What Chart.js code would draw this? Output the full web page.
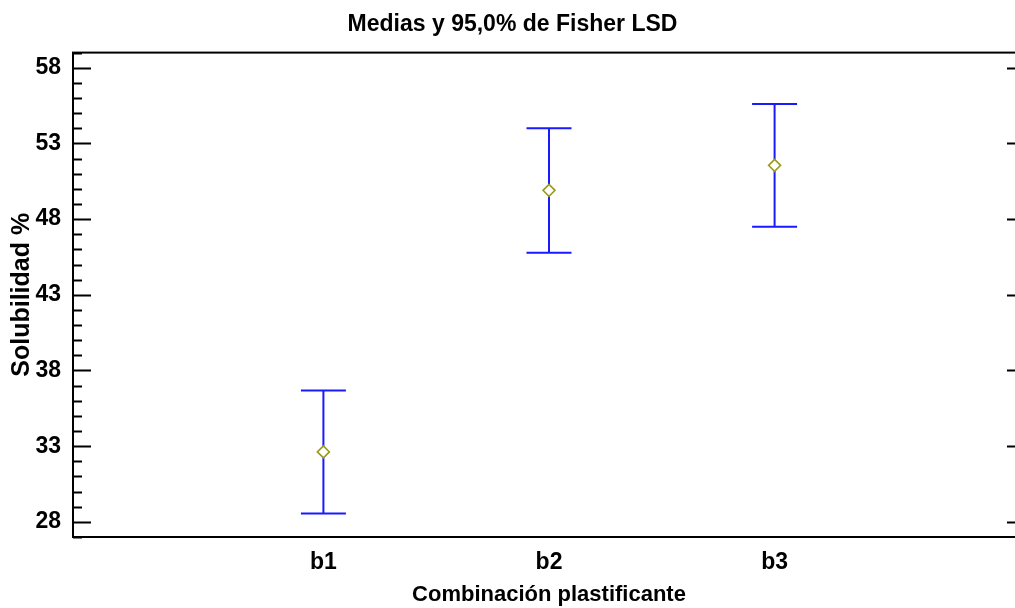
<!DOCTYPE html>
<html>
<head>
<meta charset="utf-8">
<script src="https://cdn.jsdelivr.net/npm/chart.js@4/dist/chart.umd.min.js"></script>
<style>
  html, body { margin: 0; padding: 0; background: #fff; overflow: hidden; }
  #wrap { width: 1040px; height: 608px; position: relative; }
</style>
</head>
<body>
<div id="wrap"><canvas id="c"></canvas></div>
<script>
// Fisher LSD means with 95% intervals per plasticizer combination
const categories = ['b1', 'b2', 'b3'];
const means = [32.62, 49.90, 51.55];
const lower = [28.55, 45.78, 47.50];
const upper = [36.68, 54.00, 55.60];
const yTicks = [28, 33, 38, 43, 48, 53, 58];

const FONT = '"Liberation Sans Narrow", "Arial Narrow", "Liberation Sans", Arial, sans-serif';

// Interval bars (vertical line + caps) under the mean markers
const intervalBars = {
  id: 'intervalBars',
  beforeDatasetsDraw(chart) {
    const { ctx, scales: { x, y } } = chart;
    ctx.save();
    ctx.strokeStyle = '#1a1aff';
    ctx.lineWidth = 2;
    const cap = 22.5;
    categories.forEach((c, i) => {
      const px = x.getPixelForValue(i + 1);
      const yl = y.getPixelForValue(lower[i]);
      const yu = y.getPixelForValue(upper[i]);
      ctx.beginPath();
      ctx.moveTo(px, yu); ctx.lineTo(px, yl);
      ctx.moveTo(px - cap, yu); ctx.lineTo(px + cap, yu);
      ctx.moveTo(px - cap, yl); ctx.lineTo(px + cap, yl);
      ctx.stroke();
    });
    ctx.restore();
  }
};

// Frame with inward major/minor ticks on left and right
const frame = {
  id: 'frame',
  afterDraw(chart) {
    const { ctx, chartArea: a, scales: { y } } = chart;
    ctx.save();
    ctx.strokeStyle = '#000';
    ctx.lineWidth = 2;
    ctx.strokeRect(a.left, a.top, a.right - a.left, a.bottom - a.top);
    ctx.beginPath();
    for (let v = Math.ceil(y.min); v <= y.max; v++) {
      const py = Math.round(y.getPixelForValue(v)) + 0.5;
      const major = yTicks.includes(v);
      const len = major ? 18 : 9;
      ctx.moveTo(a.left, py); ctx.lineTo(a.left + len, py);
      ctx.moveTo(a.right, py); ctx.lineTo(a.right - len, py);
    }
    ctx.stroke();
    ctx.restore();
  }
};

new Chart(document.getElementById('c'), {
  type: 'scatter',
  data: {
    datasets: [{
      data: means.map((m, i) => ({ x: i + 1, y: m })),
      pointStyle: 'rectRot',
      pointRadius: 6,
      pointHoverRadius: 6,
      borderColor: '#9c9a1c',
      backgroundColor: '#ffffff',
      borderWidth: 1.6
    }]
  },
  options: {
    responsive: true,
    maintainAspectRatio: false,
    animation: false,
    events: [],
    layout: { padding: { left: 0, right: 15, top: 0, bottom: 0 } },
    plugins: {
      legend: { display: false },
      tooltip: { enabled: false },
      title: {
        display: true,
        text: 'Medias y 95,0% de Fisher LSD',
        color: '#000',
        font: { family: FONT, size: 23, weight: 'bold' },
        padding: { top: 11, bottom: 14 }
      }
    },
    scales: {
      x: {
        type: 'linear',
        min: -0.11,
        max: 4.11,
        afterBuildTicks: (s) => { s.ticks = categories.map((c, i) => ({ value: i + 1 })); },
        afterFit: (s) => { s.height = 71; },
        grid: { display: false, drawTicks: false },
        border: { display: false },
        ticks: {
          padding: 12,
          color: '#000',
          font: { family: FONT, size: 23, weight: 'bold' },
          callback: (v) => categories[v - 1] ?? ''
        },
        title: {
          display: true,
          text: 'Combinación plastificante',
          color: '#000',
          font: { family: FONT, size: 22, weight: 'bold' },
          padding: { top: 0, bottom: 0 }
        }
      },
      y: {
        min: 27,
        max: 59,
        afterBuildTicks: (s) => { s.ticks = yTicks.map(v => ({ value: v })); },
        afterFit: (s) => { s.width = 73; },
        grid: { display: false, drawTicks: false },
        border: { display: false },
        ticks: {
          padding: 12,
          color: '#000',
          font: { family: FONT, size: 23, weight: 'bold' }
        },
        title: {
          display: true,
          text: 'Solubilidad %',
          color: '#000',
          font: { family: FONT, size: 25, weight: 'bold' },
          padding: { top: 7, bottom: 0 }
        }
      }
    }
  },
  plugins: [intervalBars, frame]
});
</script>
</body>
</html>
